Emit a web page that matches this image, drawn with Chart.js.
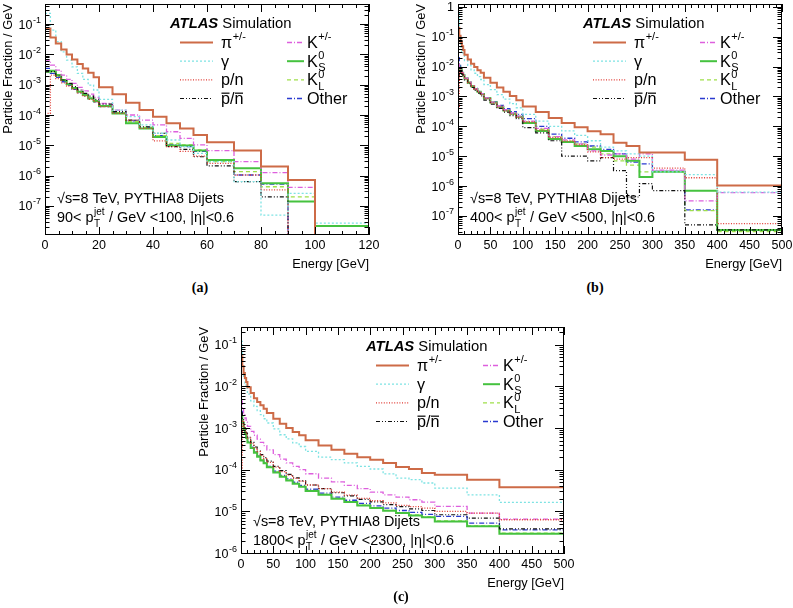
<!DOCTYPE html>
<html>
<head>
<meta charset="utf-8">
<script src="https://cdn.jsdelivr.net/npm/chart.js@4.4.1/dist/chart.umd.min.js"></script>
<style>
  html, body { margin: 0; padding: 0; background: #fff; overflow: hidden; }
  #page { position: relative; width: 793px; height: 608px; overflow: hidden; }
  canvas { position: absolute; }
  .tag { position: absolute; transform: translate(-50%, -50%); font: bold 14px "Liberation Serif", "Times New Roman", serif; color: #000; }
</style>
</head>
<body>
<div id="page">
  <canvas id="padA" width="384" height="275" style="left:0px;top:0px"></canvas>
  <canvas id="padB" width="384" height="275" style="left:413px;top:0px"></canvas>
  <canvas id="padC" width="383" height="271" style="left:196px;top:323px"></canvas>
  <div class="tag" style="left:200px;top:288px">(a)</div>
  <div class="tag" style="left:595px;top:288px">(b)</div>
  <div class="tag" style="left:401px;top:597px">(c)</div>
</div>
<script>
// bin edges (GeV)
const edgesA = [0, 2, 4, 6, 8, 10, 12, 14, 16, 18, 20, 25, 30, 35, 40, 45, 50, 55, 60, 70, 80, 90, 100, 120];
const edgesBC = [0, 2, 4, 6, 8, 10, 15, 20, 25, 30, 35, 40, 50, 60, 70, 80, 90, 100, 120, 140, 160, 180, 200, 220, 240, 260, 280, 300, 350, 400, 500];

// (a) 90 < pT < 100 GeV
const piA   = [0.072, 0.0363, 0.0231, 0.0146, 0.010, 6.8e-3, 4.8e-3, 3.45e-3, 2.5e-3, 1.75e-3, 8.2e-4, 4.8e-4, 2.55e-4, 1.46e-4, 8.8e-5, 5.3e-5, 3.6e-5, 2.2e-5, 1.26e-5, 6.7e-6, 2.0e-6, 7.2e-7, 0];
const gamA  = [0.225, 0.0634, 0.0262, 0.0122, 6.5e-3, 3.9e-3, 2.37e-3, 1.5e-3, 9.7e-4, 6.7e-4, 3.3e-4, 1.46e-4, 8.8e-5, 4.7e-5, 2.5e-5, 1.5e-5, 9.0e-6, 5.4e-6, 2.9e-6, 6.3e-7, 5.0e-8, 2.6e-7, 2.7e-8];
const pnA   = [1.13e-4, 2.08e-3, 1.6e-3, 1.15e-3, 9.0e-4, 7.0e-4, 5.4e-4, 4.2e-4, 3.3e-4, 2.7e-4, 1.9e-4, 1.13e-4, 6.8e-5, 3.6e-5, 1.4e-5, 9.0e-6, 6.3e-6, 4.4e-6, 2.55e-6, 1.05e-6, 3.4e-7, 0, 0];
const pbarA = [2.7e-3, 2.7e-3, 1.93e-3, 1.43e-3, 1.1e-3, 8.6e-4, 6.7e-4, 5.2e-4, 4.2e-4, 3.3e-4, 2.3e-4, 1.3e-4, 6.8e-5, 4.1e-5, 2.5e-5, 9.0e-6, 7.4e-6, 4.2e-6, 2.1e-6, 6.3e-7, 2.0e-7, 0, 0];
const kchA  = [6.5e-3, 4.45e-3, 3.05e-3, 2.08e-3, 1.5e-3, 1.1e-3, 8.2e-4, 6.3e-4, 4.9e-4, 3.8e-4, 2.4e-4, 1.46e-4, 1.0e-4, 6.8e-5, 4.7e-5, 2.8e-5, 1.7e-5, 1.03e-5, 6.7e-6, 2.9e-6, 1.26e-6, 4.1e-7, 0];
const ksA   = [2.7e-3, 2.9e-3, 2.08e-3, 1.43e-3, 1.05e-3, 7.8e-4, 5.9e-4, 4.6e-4, 3.6e-4, 2.9e-4, 2.0e-4, 1.13e-4, 5.3e-5, 3.6e-5, 1.9e-5, 9.8e-6, 9.8e-6, 6.7e-6, 3.3e-6, 1.75e-6, 5.6e-7, 1.4e-7, 2.2e-8];
const klA   = [2.7e-3, 2.7e-3, 1.93e-3, 1.36e-3, 1.0e-3, 7.4e-4, 5.6e-4, 4.4e-4, 3.4e-4, 2.75e-4, 1.9e-4, 1.2e-4, 6.0e-5, 3.9e-5, 2.1e-5, 1.16e-5, 1.03e-5, 7.0e-6, 2.9e-6, 1.35e-6, 4.3e-7, 2.0e-7, 2.2e-8];
const othA  = [3.45e-3, 2.37e-3, 1.75e-3, 1.25e-3, 9.5e-4, 7.0e-4, 5.4e-4, 4.2e-4, 3.4e-4, 2.7e-4, 1.9e-4, 1.2e-4, 6.4e-5, 3.9e-5, 2.1e-5, 1.03e-5, 9.0e-6, 6.3e-6, 3.3e-6, 1.05e-6, 5.3e-7, 0, 0];

// (b) 400 < pT < 500 GeV
const piB   = [0.2, 0.108, 0.068, 0.048, 0.036, 0.0248, 0.0174, 0.0125, 9.7e-3, 7.5e-3, 6.2e-3, 4.2e-3, 2.9e-3, 2.0e-3, 1.45e-3, 1.04e-3, 7.5e-4, 4.6e-4, 3.0e-4, 1.9e-4, 1.3e-4, 9.4e-5, 6.9e-5, 5.4e-5, 2.85e-5, 2.2e-5, 1.33e-5, 1.33e-5, 7.6e-6, 1.05e-6];
const gamB  = [0.6, 0.07, 0.045, 0.032, 0.024, 0.016, 0.011, 7.8e-3, 6.0e-3, 4.6e-3, 3.7e-3, 2.5e-3, 1.7e-3, 1.15e-3, 8.2e-4, 5.8e-4, 4.2e-4, 2.5e-4, 1.5e-4, 1.0e-4, 7.0e-5, 5.0e-5, 3.3e-5, 2.0e-5, 1.5e-5, 1.2e-5, 1.0e-5, 3.0e-6, 2.4e-6, 6.3e-7];
const pnB   = [4e-4, 8.5e-3, 7.2e-3, 6.0e-3, 5.0e-3, 3.9e-3, 2.9e-3, 2.2e-3, 1.75e-3, 1.4e-3, 1.15e-3, 8.5e-4, 6.0e-4, 4.4e-4, 3.3e-4, 2.5e-4, 2.0e-4, 1.4e-4, 7.5e-5, 4.2e-5, 3.2e-5, 2.4e-5, 1.4e-5, 9.0e-6, 8.0e-6, 9.0e-6, 9.0e-6, 4.0e-6, 1.9e-6, 5.5e-8];
const pbarB = [5e-3, 7.5e-3, 6.5e-3, 5.5e-3, 4.6e-3, 3.6e-3, 2.7e-3, 2.0e-3, 1.6e-3, 1.3e-3, 1.05e-3, 7.5e-4, 5.5e-4, 4.0e-4, 3.0e-4, 2.3e-4, 1.8e-4, 9.0e-5, 6.0e-5, 3.3e-5, 1.0e-5, 1.0e-5, 7.0e-6, 9.0e-6, 3.3e-6, 4.3e-7, 1.2e-6, 7.0e-7, 5.0e-8, 3.4e-8];
const kchB  = [0.012, 9.5e-3, 7.8e-3, 6.3e-3, 5.2e-3, 4.1e-3, 3.0e-3, 2.3e-3, 1.8e-3, 1.5e-3, 1.25e-3, 9.0e-4, 6.5e-4, 4.8e-4, 3.6e-4, 2.8e-4, 2.2e-4, 1.5e-4, 8.5e-5, 4.5e-5, 3.5e-5, 2.6e-5, 1.5e-5, 1.1e-5, 1.2e-5, 8.0e-6, 1.2e-5, 3.4e-6, 3.2e-7, 6.0e-7];
const ksB   = [0.011, 9.2e-3, 7.5e-3, 6.2e-3, 5.1e-3, 4.0e-3, 2.9e-3, 2.2e-3, 1.77e-3, 1.45e-3, 1.21e-3, 8.7e-4, 6.3e-4, 4.5e-4, 3.4e-4, 2.65e-4, 2.1e-4, 1.3e-4, 7.0e-5, 3.8e-5, 3.0e-5, 2.2e-5, 1.7e-5, 1.5e-5, 1.0e-5, 7.0e-6, 2.0e-6, 3.0e-6, 7.0e-7, 3.4e-8];
const klB   = [0.012, 9.5e-3, 7.6e-3, 6.2e-3, 5.1e-3, 4.0e-3, 3.0e-3, 2.25e-3, 1.8e-3, 1.45e-3, 1.2e-3, 8.8e-4, 6.3e-4, 4.6e-4, 3.5e-4, 2.7e-4, 2.1e-4, 1.4e-4, 8.0e-5, 4.5e-5, 3.2e-5, 2.6e-5, 2.0e-5, 1.2e-5, 7.0e-6, 5.0e-6, 3.0e-6, 3.0e-6, 1.5e-7, 3.0e-8];
const othB  = [0.02, 0.011, 8.0e-3, 6.4e-3, 5.2e-3, 4.1e-3, 3.0e-3, 2.3e-3, 1.85e-3, 1.5e-3, 1.25e-3, 9.0e-4, 6.6e-4, 5.0e-4, 3.9e-4, 3.1e-4, 2.5e-4, 1.8e-4, 1.0e-4, 5.5e-5, 4.0e-5, 3.0e-5, 2.2e-5, 1.7e-5, 1.2e-5, 6.3e-6, 5.5e-6, 3.1e-6, 1.6e-7, 3.4e-8];

// (c) 1800 < pT < 2300 GeV
const piC   = [0.0525, 0.0302, 0.0209, 0.0158, 0.0127, 9.5e-3, 6.9e-3, 5.2e-3, 4.2e-3, 3.5e-3, 2.9e-3, 2.3e-3, 1.67e-3, 1.27e-3, 1.0e-3, 8.0e-4, 6.7e-4, 5.1e-4, 3.8e-4, 3.0e-4, 2.4e-4, 2.0e-4, 1.74e-4, 1.45e-4, 1.16e-4, 1.04e-4, 8.3e-5, 7.6e-5, 5.75e-5, 3.8e-5];
const gamC  = [0.12, 0.030, 0.0174, 0.012, 9.1e-3, 6.5e-3, 4.5e-3, 3.3e-3, 2.6e-3, 2.1e-3, 1.67e-3, 1.32e-3, 9.5e-4, 6.9e-4, 5.5e-4, 4.4e-4, 3.6e-4, 2.75e-4, 2.0e-4, 1.74e-4, 1.45e-4, 1.2e-4, 1.04e-4, 7.9e-5, 6.3e-5, 5.75e-5, 4.8e-5, 3.6e-5, 2.5e-5, 1.64e-5];
const pnC   = [1.0e-4, 1.5e-3, 1.1e-3, 8.8e-4, 7.2e-4, 5.7e-4, 4.3e-4, 3.35e-4, 2.7e-4, 2.2e-4, 1.85e-4, 1.5e-4, 1.15e-4, 9.0e-5, 7.4e-5, 6.2e-5, 5.3e-5, 4.3e-5, 3.5e-5, 2.9e-5, 2.45e-5, 2.05e-5, 1.8e-5, 1.6e-5, 1.4e-5, 1.3e-5, 1.2e-5, 1.0e-5, 9.1e-6, 6.3e-6];
const pbarC = [2.3e-3, 1.6e-3, 1.2e-3, 9.4e-4, 7.6e-4, 6.0e-4, 4.5e-4, 3.5e-4, 2.8e-4, 2.3e-4, 1.95e-4, 1.6e-4, 1.2e-4, 9.5e-5, 7.7e-5, 6.4e-5, 5.4e-5, 4.3e-5, 3.5e-5, 2.8e-5, 2.35e-5, 1.95e-5, 1.7e-5, 1.45e-5, 1.3e-5, 1.15e-5, 1.05e-5, 8.3e-6, 6.9e-6, 3.8e-6];
const kchC  = [4.4e-3, 3.1e-3, 2.3e-3, 1.74e-3, 1.39e-3, 1.1e-3, 8.3e-4, 6.7e-4, 5.4e-4, 4.5e-4, 3.8e-4, 3.0e-4, 2.3e-4, 1.8e-4, 1.45e-4, 1.2e-4, 1.0e-4, 8.0e-5, 6.3e-5, 5.1e-5, 4.2e-5, 3.5e-5, 2.9e-5, 2.5e-5, 2.2e-5, 1.9e-5, 1.67e-5, 1.32e-5, 9.1e-6, 6.5e-6];
const ksC   = [1.87e-3, 1.32e-3, 9.5e-4, 7.3e-4, 5.8e-4, 4.5e-4, 3.3e-4, 2.56e-4, 2.05e-4, 1.67e-4, 1.42e-4, 1.14e-4, 8.6e-5, 6.8e-5, 5.5e-5, 4.6e-5, 3.9e-5, 3.1e-5, 2.5e-5, 2.0e-5, 1.67e-5, 1.39e-5, 1.2e-5, 1.04e-5, 9.1e-6, 8.0e-6, 7.2e-6, 5.75e-6, 4.4e-6, 2.9e-6];
const klC   = [1.95e-3, 1.38e-3, 1.0e-3, 7.6e-4, 6.0e-4, 4.7e-4, 3.4e-4, 2.65e-4, 2.1e-4, 1.72e-4, 1.46e-4, 1.17e-4, 8.9e-5, 7.0e-5, 5.7e-5, 4.7e-5, 4.0e-5, 3.2e-5, 2.55e-5, 2.05e-5, 1.7e-5, 1.42e-5, 1.22e-5, 1.06e-5, 9.3e-6, 8.2e-6, 7.4e-6, 5.9e-6, 4.5e-6, 3.0e-6];
const othC  = [2.5e-3, 1.4e-3, 1.0e-3, 7.7e-4, 6.1e-4, 4.7e-4, 3.5e-4, 2.7e-4, 2.15e-4, 1.75e-4, 1.5e-4, 1.2e-4, 9.2e-5, 7.3e-5, 6.0e-5, 5.0e-5, 4.2e-5, 3.4e-5, 2.75e-5, 2.2e-5, 1.85e-5, 1.55e-5, 1.35e-5, 1.2e-5, 1.05e-5, 9.5e-6, 8.5e-6, 7.6e-6, 5.2e-6, 3.6e-6];

// decade labels on the y axes (exponents)
const yExpA = [-1, -2, -3, -4, -5, -6, -7];
const yExpB = [0, -1, -2, -3, -4, -5, -6, -7];
const yExpC = [-1, -2, -3, -4, -5, -6];

// line styles, legend order: left column then right column
const SERIES = [
  { key: 'pi',   color: '#cd6b47', width: 2,   dash: [] },
  { key: 'gam',  color: '#7ee3e3', width: 1.3, dash: [2, 2] },
  { key: 'pn',   color: '#e03a32', width: 1.3, dash: [1, 1.6] },
  { key: 'pbar', color: '#111111', width: 1.2, dash: [4, 2, 1, 2, 1, 2] },
  { key: 'kch',  color: '#dd5fdd', width: 1.3, dash: [5, 2, 1, 2] },
  { key: 'ks',   color: '#45c23f', width: 2,   dash: [] },
  { key: 'kl',   color: '#9fe04a', width: 1.3, dash: [4, 3] },
  { key: 'oth',  color: '#2a3ad0', width: 1.3, dash: [5, 2, 1, 2] },
];

const FAM = '"Liberation Sans", Arial, Helvetica, sans-serif';
Chart.defaults.font.family = FAM;
Chart.defaults.color = '#000';

function fnt(size, style) {
  return (style ? style + ' ' : '') + size + 'px ' + FAM;
}

function put(ctx, s, x, y, size, style) {
  ctx.font = fnt(size, style);
  ctx.fillText(s, x, y);
  return ctx.measureText(s).width;
}

// histogram outline: one point per left edge, plus the closing right edge
function steps(edges, vals, ymin) {
  const pts = vals.map((v, i) => ({ x: edges[i], y: v > 0 ? v : ymin }));
  pts.push({ x: edges[edges.length - 1], y: pts[pts.length - 1].y });
  return pts;
}

function legendLabel(ctx, key, x, b) {
  const S = 16.2, s = 11;
  let w;
  switch (key) {
    case 'pi':
      w = put(ctx, 'π', x, b, S);
      put(ctx, '+/-', x + w + 0.5, b - 7.5, s);
      break;
    case 'gam':
      put(ctx, 'γ', x, b, S);
      break;
    case 'pn':
      put(ctx, 'p/n', x, b, S);
      break;
    case 'pbar': {
      ctx.font = fnt(S);
      const wp = ctx.measureText('p').width;
      const wps = ctx.measureText('p/').width;
      const wn = ctx.measureText('n').width;
      ctx.fillText('p/n', x, b);
      const oy = b - 0.52 * S - 2.8;
      ctx.fillRect(x + 0.5, oy, wp - 1, 1.2);
      ctx.fillRect(x + wps + 0.5, oy, wn - 1, 1.2);
      break;
    }
    case 'kch':
      w = put(ctx, 'K', x, b, S);
      put(ctx, '+/-', x + w + 0.5, b - 7.5, s);
      break;
    case 'ks':
    case 'kl':
      w = put(ctx, 'K', x, b, S);
      put(ctx, '0', x + w + 0.5, b - 7.5, s);
      put(ctx, key === 'ks' ? 'S' : 'L', x + w + 0.5, b + 4.5, s);
      break;
    case 'oth':
      put(ctx, 'Other', x, b, S);
      break;
  }
}

// ROOT-like frame, inward ticks, decade labels, legend and captions
const rootPad = {
  id: 'rootPad',
  afterDraw(chart, args, o) {
    const { ctx, chartArea: a, scales: { x, y } } = chart;
    ctx.save();
    ctx.strokeStyle = '#000';
    ctx.fillStyle = '#000';
    ctx.lineWidth = 1;
    ctx.setLineDash([]);
    ctx.strokeRect(a.left + 0.5, a.top + 0.5, a.width - 1, a.height - 1);

    ctx.beginPath();
    for (let i = 0; i * o.xMinor <= x.max + 1e-6; i++) {
      const v = i * o.xMinor;
      const px = Math.round(x.getPixelForValue(v)) + 0.5;
      const len = v % o.xMajor === 0 ? 8 : 4;
      ctx.moveTo(px, a.bottom); ctx.lineTo(px, a.bottom - len);
      ctx.moveTo(px, a.top); ctx.lineTo(px, a.top + len);
    }
    const e0 = Math.floor(Math.log10(y.min)), e1 = Math.ceil(Math.log10(y.max));
    for (let e = e0; e <= e1; e++) {
      for (let m = 1; m < 10; m++) {
        const v = m * Math.pow(10, e);
        if (v < y.min || v > y.max) continue;
        const py = Math.round(y.getPixelForValue(v)) + 0.5;
        const len = m === 1 ? 9 : 4.5;
        ctx.moveTo(a.left, py); ctx.lineTo(a.left + len, py);
        ctx.moveTo(a.right, py); ctx.lineTo(a.right - len, py);
      }
    }
    ctx.stroke();

    // y decade labels
    ctx.textBaseline = 'alphabetic';
    ctx.textAlign = 'left';
    for (const e of o.yExps) {
      const py = y.getPixelForValue(Math.pow(10, e));
      const b = py + 4.5, r = a.left - 4;
      if (e === 0) {
        ctx.font = fnt(12.5);
        put(ctx, '1', r - ctx.measureText('1').width, b, 12.5);
        continue;
      }
      const sup = String(e);
      ctx.font = fnt(9);
      const ws = ctx.measureText(sup).width;
      ctx.font = fnt(12.5);
      const wb = ctx.measureText('10').width;
      put(ctx, '10', r - ws - wb - 0.5, b, 12.5);
      put(ctx, sup, r - ws, b - 6, 9);
    }

    const L = a.left, T = a.top;
    // ATLAS label
    const wa = put(ctx, 'ATLAS', L + 125, T + 24, 14.8, 'italic bold');
    put(ctx, ' Simulation', L + 125 + wa, T + 24, 14.8);

    // legend
    const rows = [38, 56.7, 75.3, 94];
    SERIES.forEach((s, i) => {
      const col = i < 4 ? 0 : 1;
      const yy = T + rows[i % 4];
      const x0 = L + (col ? 242 : 135), x1 = L + (col ? 259 : 168);
      ctx.strokeStyle = s.color;
      ctx.lineWidth = s.width;
      ctx.setLineDash(s.dash);
      ctx.beginPath();
      ctx.moveTo(x0, yy + 0.5);
      ctx.lineTo(x1, yy + 0.5);
      ctx.stroke();
      ctx.setLineDash([]);
      ctx.fillStyle = '#000';
      legendLabel(ctx, s.key, L + (col ? 262 : 176), yy + 5.8);
    });

    // captions
    put(ctx, '√s=8 TeV, PYTHIA8 Dijets', L + 12, T + 199, 14.4);
    const b2 = T + 218;
    const w1 = put(ctx, o.ptPre, L + 12, b2, 14.4);
    put(ctx, 'jet', L + 12 + w1 + 0.5, b2 - 7.5, 10);
    put(ctx, 'T', L + 12 + w1 + 0.5, b2 + 4.5, 10);
    ctx.font = fnt(10);
    const wj = ctx.measureText('jet').width;
    put(ctx, o.ptPost, L + 12 + w1 + wj + 1, b2, 14.4);
    ctx.restore();
  }
};

function makePad(id, edges, series, p) {
  const cfg = {
    type: 'line',
    data: {
      datasets: SERIES.map((s, i) => ({
        label: s.key,
        data: steps(edges, series[i], p.yMin),
        borderColor: s.color,
        borderWidth: s.width,
        borderDash: s.dash,
        stepped: true,
        pointRadius: 0,
        fill: false
      }))
    },
    options: {
      responsive: false,
      animation: false,
      devicePixelRatio: 1,
      layout: { padding: { left: 0, right: 15, top: 4, bottom: 0 } },
      plugins: {
        legend: { display: false },
        tooltip: { enabled: false },
        rootPad: { xMinor: p.xMinor, xMajor: p.xMajor, yExps: p.yExps, ptPre: p.ptPre, ptPost: p.ptPost }
      },
      scales: {
        x: {
          type: 'linear',
          min: 0,
          max: p.xMax,
          grid: { display: false, drawTicks: false },
          border: { display: false },
          ticks: { stepSize: p.xMajor, padding: 3, maxRotation: 0, autoSkip: false, color: '#000', font: { size: 12.5 } },
          title: { display: true, text: 'Energy [GeV]', align: 'end', color: '#000', font: { size: 12.8 }, padding: { top: 0, bottom: 3 } },
          afterFit: s => { s.height = 40; }
        },
        y: {
          type: 'logarithmic',
          min: p.yMin,
          max: p.yMax,
          grid: { display: false, drawTicks: false },
          border: { display: false },
          ticks: { display: false },
          title: { display: true, text: 'Particle Fraction / GeV', align: 'end', color: '#000', font: { size: 12.9 }, padding: { top: 1, bottom: 0 } },
          afterFit: s => { s.width = 45; }
        }
      }
    },
    plugins: [rootPad]
  };
  return new Chart(document.getElementById(id), cfg);
}

makePad('padA', edgesA, [piA, gamA, pnA, pbarA, kchA, ksA, klA, othA], {
  xMax: 120, xMajor: 20, xMinor: 5, yMin: 1.1e-8, yMax: 0.46, yExps: yExpA,
  ptPre: '90< p', ptPost: ' / GeV <100, |η|<0.6'
});
makePad('padB', edgesBC, [piB, gamB, pnB, pbarB, kchB, ksB, klB, othB], {
  xMax: 500, xMajor: 50, xMinor: 10, yMin: 2.3e-8, yMax: 1.25, yExps: yExpB,
  ptPre: '400< p', ptPost: ' / GeV <500, |η|<0.6'
});
makePad('padC', edgesBC, [piC, gamC, pnC, pbarC, kchC, ksC, klC, othC], {
  xMax: 500, xMajor: 50, xMinor: 10, yMin: 9.5e-7, yMax: 0.265, yExps: yExpC,
  ptPre: '1800< p', ptPost: ' / GeV <2300, |η|<0.6'
});
</script>
</body>
</html>
